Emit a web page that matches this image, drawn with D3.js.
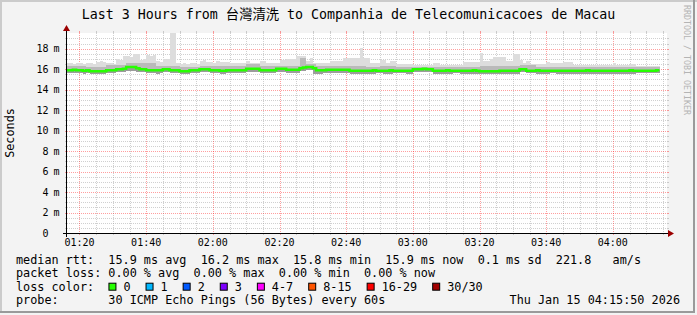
<!DOCTYPE html>
<html>
<head>
<meta charset="utf-8">
<script src="https://cdn.jsdelivr.net/npm/d3@7"></script>
<style>
  body { margin: 0; background: #f3f3f3; }
  svg { display: block; }
  text { font-family: "DejaVu Sans Mono", "Noto Sans CJK TC", monospace; white-space: pre; }
</style>
</head>
<body>
<div id="chart"></div>
<script>
// one value per 60s step, starting 01:16 (ms)
const median = [
  15.9,15.9,15.95,15.9,15.9,15.85,15.9,15.8,15.8,15.8,
  15.8,15.8,15.9,15.9,15.9,16.0,16.0,16.05,16.2,16.2,
  16.2,16.1,16.0,16.0,15.9,15.9,15.9,15.9,15.9,16.0,
  16.0,15.9,15.9,15.9,15.8,15.8,15.8,15.9,15.9,15.9,
  16.0,16.0,16.0,15.9,15.9,15.9,15.85,15.85,15.9,15.9,
  15.9,15.9,15.9,15.9,16.05,16.05,16.05,16.05,15.9,15.9,
  15.9,15.9,15.9,16.05,16.05,16.05,15.95,15.95,15.95,15.95,
  16.1,16.15,16.2,16.2,16.1,15.9,15.9,15.9,15.95,15.95,
  15.95,15.95,15.95,15.95,15.95,15.85,15.85,15.85,15.85,15.85,
  15.85,15.85,15.9,15.85,15.85,15.85,15.85,15.9,15.85,15.85,
  15.85,15.85,15.85,15.85,16.0,16.0,16.0,16.05,16.0,16.0,
  15.85,15.85,15.85,15.85,15.9,15.85,15.85,15.85,15.85,15.85,
  15.85,15.85,15.9,15.85,15.8,15.8,15.8,15.8,15.8,15.8,
  15.85,15.85,15.85,15.85,15.85,15.85,16.0,16.0,15.85,15.85,
  15.85,15.9,15.85,15.85,15.85,15.85,15.85,15.85,15.85,15.85,
  15.85,15.85,15.85,15.85,15.85,15.85,15.9,15.85,15.85,15.85,
  15.85,15.85,15.85,15.85,15.85,15.85,15.85,15.85,15.85,15.9,
  15.85,15.85,15.85,15.85,15.85,15.85,15.85,15.9
];
// top of the light smoke (slowest pings)
const smokeHi = [
  16.6,16.6,16.5,16.6,16.6,16.5,16.6,16.6,16.5,16.7,
  16.8,16.7,16.6,16.6,16.5,17.0,16.9,17.3,17.3,17.2,
  17.5,17.5,16.9,17.0,17.4,17.3,17.4,16.8,16.7,17.0,
  17.0,19.6,19.6,16.6,16.5,16.6,16.5,16.6,16.6,16.5,
  16.8,16.9,16.7,16.7,16.6,16.8,16.7,16.7,16.7,16.6,
  16.6,16.6,16.6,16.6,16.8,16.6,16.6,16.6,16.75,16.75,
  16.6,16.6,16.6,16.6,16.9,16.9,17.0,17.0,17.0,17.3,
  17.3,17.3,16.8,17.1,16.6,16.6,16.6,16.6,16.6,16.75,
  16.75,16.75,16.75,17.1,17.1,17.1,17.1,17.1,18.05,17.05,
  17.05,16.6,16.6,16.6,16.9,16.9,16.6,16.8,16.8,16.5,
  16.5,16.5,16.5,16.5,16.4,16.4,16.4,16.4,16.4,16.4,
  16.6,16.6,16.4,16.4,16.4,16.4,16.4,16.4,16.4,16.7,
  16.7,16.7,16.7,16.7,17.55,16.8,16.8,17.0,17.2,17.2,
  17.2,17.2,16.75,16.75,17.5,17.5,16.9,16.6,16.8,16.5,
  16.5,16.5,16.5,16.5,16.7,16.6,16.6,16.6,16.6,16.7,
  16.7,16.7,16.4,16.4,16.4,16.4,16.4,16.4,16.4,16.4,
  16.4,16.4,16.4,16.4,16.6,16.4,16.4,16.4,16.4,16.55,
  16.55,16.3,16.3,16.3,16.3,16.3,16.3,16.3
];
// top of the darker inner smoke
const smokeMid = [
  16.35,16.35,16.35,16.35,16.35,16.35,16.25,16.25,16.25,16.25,
  16.25,16.25,16.45,16.45,16.45,16.45,16.45,16.45,16.6,16.6,
  16.6,16.6,16.6,16.6,16.6,16.6,16.6,16.3,16.3,16.3,
  16.3,16.3,16.3,16.3,16.25,16.25,16.25,16.25,16.25,16.25,
  16.35,16.35,16.35,16.35,16.35,16.35,16.3,16.3,16.3,16.3,
  16.3,16.3,16.3,16.3,16.5,16.5,16.5,16.5,16.35,16.35,
  16.35,16.35,16.35,16.35,16.35,16.35,16.35,16.35,16.35,16.35,
  17.1,17.1,16.55,16.55,16.55,16.3,16.3,16.3,16.3,16.3,
  16.3,16.3,16.3,16.3,16.3,16.3,16.3,16.3,16.3,16.3,
  16.25,16.25,16.25,16.25,16.35,16.35,16.35,16.35,16.35,16.25,
  16.25,16.25,16.25,16.25,16.2,16.2,16.2,16.2,16.2,16.2,
  16.25,16.25,16.25,16.25,16.25,16.25,16.25,16.25,16.25,16.25,
  16.25,16.25,16.25,16.25,16.3,16.3,16.3,16.3,16.3,16.3,
  16.3,16.3,16.3,16.3,16.3,16.3,16.4,16.4,16.4,16.4,
  16.4,16.2,16.2,16.2,16.2,16.2,16.2,16.2,16.2,16.2,
  16.2,16.2,16.2,16.2,16.2,16.2,16.2,16.2,16.2,16.2,
  16.2,16.2,16.2,16.2,16.2,16.2,16.2,16.2,16.2,16.2,
  16.2,16.2,16.2,16.2,16.2,16.2,16.2,16.2
];
// bottom of the smoke (fastest pings)
const smokeLo = [
  15.6,15.6,15.65,15.6,15.6,15.55,15.6,15.5,15.5,15.5,
  15.5,15.55,15.6,15.6,15.6,15.7,15.7,15.7,15.8,15.85,
  15.8,15.75,15.7,15.7,15.6,15.6,15.6,15.55,15.6,15.7,
  15.7,15.6,15.6,15.6,15.5,15.5,15.55,15.6,15.6,15.6,
  15.7,15.7,15.7,15.6,15.6,15.6,15.55,15.55,15.6,15.6,
  15.6,15.6,15.6,15.6,15.75,15.75,15.75,15.75,15.6,15.6,
  15.6,15.6,15.6,15.75,15.75,15.75,15.65,15.65,15.65,15.65,
  15.8,15.85,15.9,15.9,15.5,15.5,15.55,15.6,15.65,15.65,
  15.65,15.65,15.65,15.65,15.65,15.55,15.55,15.55,15.55,15.55,
  15.55,15.55,15.55,15.6,15.6,15.55,15.55,15.55,15.6,15.6,
  15.6,15.6,15.55,15.55,15.7,15.7,15.7,15.7,15.7,15.7,
  15.55,15.55,15.55,15.55,15.55,15.55,15.6,15.6,15.55,15.55,
  15.55,15.55,15.55,15.55,15.5,15.5,15.5,15.5,15.5,15.5,
  15.55,15.55,15.55,15.55,15.55,15.55,15.7,15.7,15.6,15.6,
  15.6,15.55,15.55,15.55,15.55,15.6,15.6,15.55,15.55,15.55,
  15.55,15.55,15.55,15.55,15.5,15.5,15.55,15.55,15.55,15.55,
  15.55,15.55,15.5,15.5,15.55,15.55,15.55,15.55,15.55,15.55,
  15.55,15.6,15.6,15.6,15.6,15.6,15.6,15.6
];

const yTickValues = [0, 2, 4, 6, 8, 10, 12, 14, 16, 18];
const lossLabels = ['0', '1', '2', '3', '4-7', '8-15', '16-29', '30/30'];
const lossColors = ['#26ff00', '#00b8ff', '#0059ff', '#7e00ff', '#ff00ff', '#ff5500', '#ff0000', '#a10000'];

const titleText = 'Last 3 Hours from 台灣清洗 to Companhia de Telecomunicacoes de Macau';
const legendRtt = 'median rtt:  15.9 ms avg  16.2 ms max  15.8 ms min  15.9 ms now  0.1 ms sd  221.8   am/s';
const legendLoss = 'packet loss: 0.00 % avg  0.00 % max  0.00 % min  0.00 % now';
const legendColor = 'loss color:';
const legendProbe = 'probe:       30 ICMP Echo Pings (56 Bytes) every 60s';
const stampText = 'Thu Jan 15 04:15:50 2026';

var width = 697,
    height = 315;
const pL = 67, pR = 667, pT = 33, pB = 233;
const cw = 7.11; // legend char width

var svg = d3.select('#chart')
    .append('svg')
    .attr('width', width)
    .attr('height', height);

svg.append('rect').attr('width', width).attr('height', height).attr('fill', '#f3f3f3');
// frame shades
svg.append('rect').attr('x', 0).attr('y', 0).attr('width', width).attr('height', 2).attr('fill', '#cbcbcb');
svg.append('rect').attr('x', 0).attr('y', 0).attr('width', 2).attr('height', 313).attr('fill', '#cbcbcb');
svg.append('rect').attr('x', 0).attr('y', 311).attr('width', 695).attr('height', 2).attr('fill', '#9a9a9a');
svg.append('rect').attr('x', 693).attr('y', 0).attr('width', 2).attr('height', 313).attr('fill', '#9a9a9a');

var start = new Date(2026, 0, 15, 1, 16, 15),
    end = new Date(2026, 0, 15, 4, 16, 15),
    firstStep = new Date(2026, 0, 15, 1, 16, 0);

var xScale = d3.scaleTime().domain([start, end]).range([pL, pR]);
var yScale = d3.scaleLinear().domain([0, 19.53]).range([pB, pT]);

var steps = median.map(function (d, i) { return d3.timeMinute.offset(firstStep, i); });

// canvas
svg.append('rect')
    .attr('x', pL).attr('y', pT)
    .attr('width', pR - pL).attr('height', pB - pT)
    .attr('fill', '#ffffff');

svg.append('clipPath').attr('id', 'plot')
    .append('rect')
    .attr('x', pL).attr('y', pT)
    .attr('width', pR - pL).attr('height', pB - pT);

// grid ----------------------------------------------------------------
const minorCol = 'rgba(150,150,150,0.45)',
      majorCol = 'rgba(255,0,0,0.38)';

var minorT = xScale.ticks(d3.timeMinute.every(5)).filter(function (t) { return t.getMinutes() % 20 !== 0; });
var majorT = xScale.ticks(d3.timeMinute.every(20));
var minorV = d3.range(0.5, 19.5, 0.5).filter(function (v) { return v % 2 !== 0; });

var grid = svg.append('g');

grid.selectAll('.hmin').data(minorV).enter().append('line')
    .attr('x1', pL).attr('x2', pR)
    .attr('y1', function (d) { return Math.round(yScale(d)) + 0.5; })
    .attr('y2', function (d) { return Math.round(yScale(d)) + 0.5; })
    .attr('stroke', minorCol).attr('stroke-dasharray', '1,1');
grid.selectAll('.vmin').data(minorT).enter().append('line')
    .attr('x1', function (d) { return Math.round(xScale(d)) + 0.5; })
    .attr('x2', function (d) { return Math.round(xScale(d)) + 0.5; })
    .attr('y1', pT).attr('y2', pB)
    .attr('stroke', minorCol).attr('stroke-dasharray', '1,1');
grid.selectAll('.hmaj').data(yTickValues.slice(1)).enter().append('line')
    .attr('x1', pL).attr('x2', pR)
    .attr('y1', function (d) { return Math.round(yScale(d)) + 0.5; })
    .attr('y2', function (d) { return Math.round(yScale(d)) + 0.5; })
    .attr('stroke', majorCol).attr('stroke-dasharray', '1,1');
grid.selectAll('.vmaj').data(majorT).enter().append('line')
    .attr('x1', function (d) { return Math.round(xScale(d)) + 0.5; })
    .attr('x2', function (d) { return Math.round(xScale(d)) + 0.5; })
    .attr('y1', pT).attr('y2', pB)
    .attr('stroke', majorCol).attr('stroke-dasharray', '1,1');

// little solid ticks at the canvas edges
[[minorT, minorCol], [majorT, majorCol]].forEach(function (p) {
    p[0].forEach(function (t) {
        var xx = Math.round(xScale(t)) + 0.5;
        grid.append('line').attr('x1', xx).attr('x2', xx).attr('y1', pT - 2).attr('y2', pT).attr('stroke', p[1]);
        grid.append('line').attr('x1', xx).attr('x2', xx).attr('y1', pB).attr('y2', pB + 2).attr('stroke', p[1]);
    });
});
[[minorV, minorCol], [yTickValues.slice(1), majorCol]].forEach(function (p) {
    p[0].forEach(function (v) {
        var yy = Math.round(yScale(v)) + 0.5;
        grid.append('line').attr('x1', pL - 2).attr('x2', pL).attr('y1', yy).attr('y2', yy).attr('stroke', p[1]);
        grid.append('line').attr('x1', pR).attr('x2', pR + 2).attr('y1', yy).attr('y2', yy).attr('stroke', p[1]);
    });
});

// smoke ---------------------------------------------------------------
var plot = svg.append('g').attr('clip-path', 'url(#plot)');

function stepX(i) { return xScale(steps[i]); }
function stepW(i) { return xScale(d3.timeMinute.offset(steps[i], 1)) - xScale(steps[i]); }

function band(hiArr, loArr, fill) {
    plot.append('g').selectAll('rect')
        .data(median)
        .enter()
        .append('rect')
        .attr('x', function (d, i) { return stepX(i); })
        .attr('width', function (d, i) { return stepW(i) + 0.05; })
        .attr('y', function (d, i) { return yScale(hiArr[i]); })
        .attr('height', function (d, i) { return yScale(loArr[i]) - yScale(hiArr[i]); })
        .attr('fill', fill)
        .attr('shape-rendering', 'crispEdges');
}
band(smokeHi, smokeLo, '#dddddd');
band(smokeMid, smokeLo, '#bababa');
band(median, smokeLo, '#9c9c9c');

// median line
var lineData = median.concat([median[median.length - 1]]);
var medLine = d3.line()
    .x(function (d, i) { return xScale(d3.timeMinute.offset(firstStep, i)); })
    .y(function (d) { return yScale(d); })
    .curve(d3.curveStepAfter);

plot.append('path')
    .attr('d', medLine(lineData))
    .attr('fill', 'none')
    .attr('stroke', lossColors[0])
    .attr('stroke-width', 2.5);

// axes ----------------------------------------------------------------
svg.append('line').attr('x1', pL - 4).attr('x2', pR + 4)
    .attr('y1', pB + 0.5).attr('y2', pB + 0.5).attr('stroke', '#000');
svg.append('line').attr('x1', pL - 0.5).attr('x2', pL - 0.5)
    .attr('y1', pB + 4).attr('y2', pT - 4).attr('stroke', '#000');
svg.append('path')
    .attr('d', 'M' + (pR + 1) + ',' + (pB - 3) + 'L' + (pR + 7) + ',' + (pB + 0.5) + 'L' + (pR + 1) + ',' + (pB + 4) + 'Z')
    .attr('fill', '#9b0000');
svg.append('path')
    .attr('d', 'M' + (pL - 4) + ',' + (pT - 2) + 'L' + (pL - 0.5) + ',' + (pT - 8) + 'L' + (pL + 3) + ',' + (pT - 2) + 'Z')
    .attr('fill', '#9b0000');

// tick labels
svg.selectAll('.xl').data(majorT).enter().append('text')
    .attr('x', function (d) { return xScale(d); })
    .attr('y', 246)
    .attr('text-anchor', 'middle')
    .attr('font-size', '10px')
    .text(d3.timeFormat('%H:%M'));

var yl = svg.selectAll('.yl').data(yTickValues).enter().append('g');
yl.append('text')
    .attr('x', 48.5)
    .attr('y', function (d) { return yScale(d); })
    .attr('dy', '0.36em')
    .attr('text-anchor', 'end')
    .attr('font-size', '10px')
    .text(function (d) { return d; });
yl.filter(function (d) { return d !== 0; }).append('text')
    .attr('x', 53.5)
    .attr('y', function (d) { return yScale(d); })
    .attr('dy', '0.36em')
    .attr('font-size', '10px')
    .text('m');

// titles
svg.append('text')
    .attr('x', width / 2).attr('y', 19)
    .attr('text-anchor', 'middle')
    .attr('font-size', '13.3px')
    .text(titleText);

svg.append('text')
    .attr('transform', 'translate(14,' + (pT + pB) / 2 + ') rotate(-90)')
    .attr('text-anchor', 'middle')
    .attr('font-size', '11.8px')
    .text('Seconds');

svg.append('text')
    .attr('transform', 'translate(684,5) rotate(90)')
    .attr('font-size', '8.3px')
    .attr('fill', '#b4b4b4')
    .text('RRDTOOL / TOBI OETIKER');

// legend
var legendY = [263.5, 277.1, 290.7, 304.3];
[legendRtt, legendLoss, legendColor, legendProbe].forEach(function (s, i) {
    svg.append('text')
        .attr('x', 16).attr('y', legendY[i])
        .attr('font-size', '11.8px')
        .text(s);
});
svg.append('text')
    .attr('x', 680).attr('y', legendY[3])
    .attr('text-anchor', 'end')
    .attr('font-size', '11.8px')
    .text(stampText);

var bx = 16 + 13 * cw;
lossLabels.forEach(function (lab, i) {
    svg.append('rect')
        .attr('x', bx + 0.5).attr('y', legendY[2] - 7.5)
        .attr('width', 7).attr('height', 7)
        .attr('fill', lossColors[i])
        .attr('stroke', '#000');
    svg.append('text')
        .attr('x', bx + 15).attr('y', legendY[2])
        .attr('font-size', '11.8px')
        .text(lab);
    bx += 30 + lab.length * cw;
});
</script>
</body>
</html>
